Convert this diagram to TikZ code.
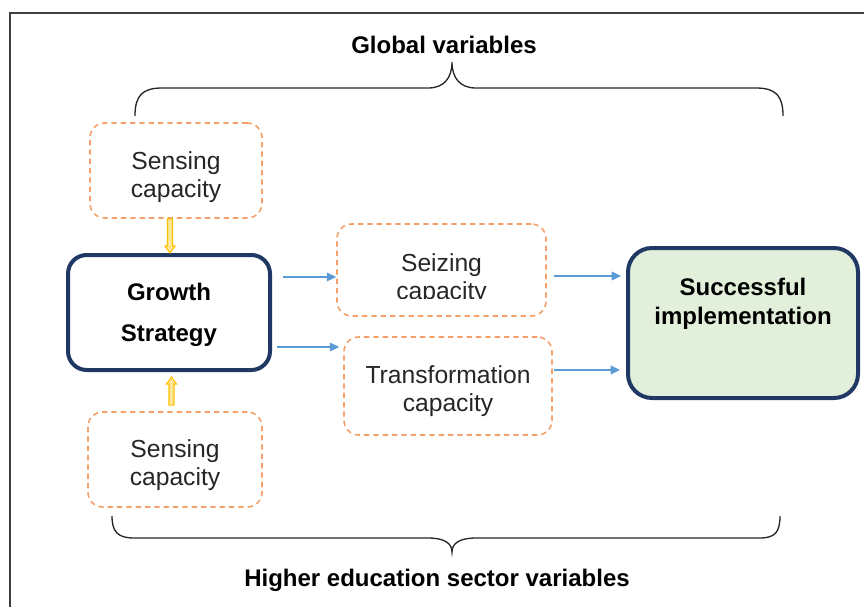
\documentclass[tikz,border=0pt]{standalone}
\usepackage{fontspec}
\setmainfont{Liberation Sans}
\usetikzlibrary{calc,arrows.meta}
\definecolor{navy}{HTML}{203864}
\definecolor{dashorange}{HTML}{F4A06A}
\definecolor{arrowblue}{HTML}{5B9BD5}
\definecolor{goldline}{HTML}{FFC000}
\definecolor{goldfill}{HTML}{FFE699}
\definecolor{greenfill}{HTML}{E2EFDA}
\definecolor{framegray}{HTML}{404040}
\definecolor{bodytext}{HTML}{262626}

\begin{document}
\begin{tikzpicture}[x=0.75pt,y=-0.75pt,
  capbox/.style={draw=dashorange, line width=1.2pt, dash pattern=on 4pt off 3pt,
    rounded corners=11pt, inner sep=0pt},
  mainbox/.style={draw=navy, line width=3pt, inner sep=0pt},
  captext/.style={font=\fontsize{18.5}{21}\selectfont, text=bodytext, align=center, inner sep=0pt},
  headtext/.style={font=\bfseries\fontsize{18}{22}\selectfont, align=center, inner sep=0pt},
  bluearrow/.style={draw=arrowblue, line width=1pt, -{Triangle[length=7pt,width=6.5pt]}},
  goldarrow/.style={draw=goldline, fill=goldfill, line width=0.8pt},
  brace/.style={draw=black!85, line width=1pt},
]
\useasboundingbox (0,0) rectangle (864,607);

% outer frame
\draw[framegray, line width=1.5pt] (10,607) -- (10,13) -- (864,13);

% headings and braces
\node[headtext] (globalvars) at (444,45) {Global variables};
\node[headtext] (sectorvars) at (437,580) {Higher education sector variables};
\draw[brace] (135,116) .. controls (135,96) and (142,88) .. (162,88) -- (428,88)
  .. controls (444,88) and (452,78) .. (452,62)
  .. controls (452,78) and (460,88) .. (476,88) -- (756,88)
  .. controls (776,88) and (783,96) .. (783,116);
\draw[brace] (112,516) .. controls (112,532) and (118,538) .. (134,538) -- (428,538)
  .. controls (444,538) and (452,543) .. (452,552)
  .. controls (452,543) and (460,538) .. (476,538) -- (760,538)
  .. controls (775,538) and (780,532) .. (780,516);

% boxes
\node[capbox, minimum width={172*0.75pt}, minimum height={95*0.75pt}] (sense1) at (176,170.5) {};
\node[capbox, minimum width={174*0.75pt}, minimum height={95*0.75pt}] (sense2) at (175,459.5) {};
\node[capbox, minimum width={209*0.75pt}, minimum height={92*0.75pt}] (seize) at (441.5,270) {};
\node[capbox, minimum width={208*0.75pt}, minimum height={98*0.75pt}] (transf) at (448,386) {};
\node[mainbox, rounded corners=14pt, minimum width={202*0.75pt}, minimum height={115*0.75pt}] (growth) at (169,312.5) {};
\node[mainbox, rounded corners=18pt, fill=greenfill, minimum width={230*0.75pt}, minimum height={150*0.75pt}] (success) at (743,323) {};

% texts
\node[captext] (sense1txt) at (176,177) {Sensing\\capacity};
\node[captext] (sense2txt) at (175,465) {Sensing\\capacity};
\node[captext] (transftxt) at (448,391) {Transformation\\capacity};
\begin{scope}
  \clip (337,224) rectangle (546,298);
  \node[captext] (seizetxt) at (441.5,279) {Seizing\\capacity};
\end{scope}
\node[headtext, font=\bfseries\fontsize{18}{31}\selectfont] (growthtxt) at (169,315) {Growth\\Strategy};
\node[headtext] (successtxt) at (743,304) {Successful\\implementation};

% blue connectors
\draw[bluearrow] ($(growth.east |- 0,277)+(11,0)$) -- (seize.west |- 0,277);
\draw[bluearrow] ($(growth.east |- 0,347)+(5,0)$) -- ($(transf.west |- 0,347)+(-4,0)$);
\draw[bluearrow] ($(seize.east |- 0,276)+(7,0)$) -- ($(success.west |- 0,276)+(-5,0)$);
\draw[bluearrow] ($(transf.east |- 0,370)+(1,0)$) -- ($(success.west |- 0,370)+(-6,0)$);

% yellow block arrows
\path[goldarrow] ($(growth.north |- sense1.south)+(-1.5,0)$) -- ++(5,0)
  -- ($(growth.north)+(3.5,-7)$) -- ++(2.5,0) -- ($(growth.north)+(1,0)$)
  -- ++(-5,-7) -- ++(2.5,0) -- cycle;
\path[goldarrow] ($(growth.south |- sense2.north)+(0,-6)$) -- ++(5,0)
  -- ($(growth.south)+(5,12)$) -- ++(2.5,0) -- ($(growth.south)+(2.5,5)$)
  -- ++(-5,7) -- ++(2.5,0) -- cycle;
\end{tikzpicture}
\end{document}
